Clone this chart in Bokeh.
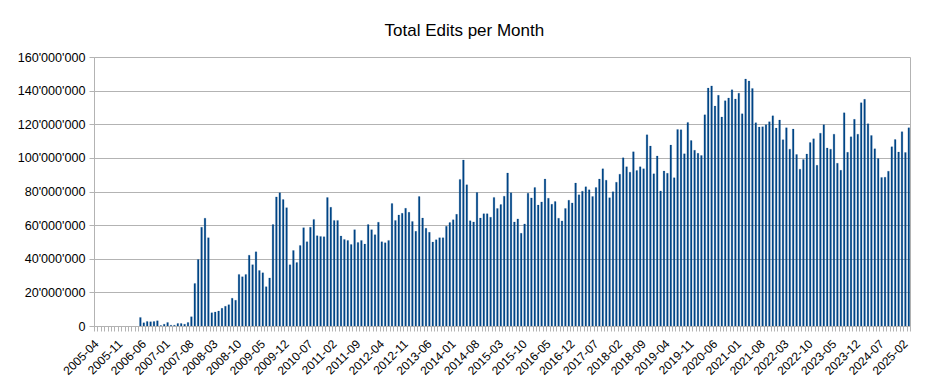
import math
import pandas as pd
from bokeh.plotting import figure
from bokeh.models import FixedTicker, Range1d, ColumnDataSource
from bokeh.embed import file_html
from bokeh.resources import INLINE

# ---- data (monthly total edits, in millions) ----
first_month = "2005-04"
last_month = "2025-03"

edits_2005_2009 = [  # 2005-04 .. 2009-12
    0, 0, 0, 0, 0, 0, 0, 0, 0,
    0, 0, 0, 0, 5.4, 2.2, 3.0, 2.8, 3.0, 3.4, 0.6, 1.4,
    2.4, 0.8, 0.8, 1.8, 1.8, 1.4, 2.4, 5.8, 25.6, 39.8, 59.0, 64.4,
    52.8, 8.2, 8.6, 9.2, 10.8, 12.0, 13.0, 16.8, 15.6, 31.0, 29.6, 31.0,
    42.4, 36.8, 44.4, 33.3, 31.9, 23.7, 28.9, 60.6, 77.1, 79.5, 75.5, 70.7,
]
edits_2010_2014 = [  # 2010-01 .. 2014-12
    36.7, 45.2, 38.0, 48.2, 58.8, 50.4, 59.0, 63.7, 54.0, 53.6, 53.4, 76.7,
    70.9, 63.1, 63.1, 53.8, 51.8, 51.2, 48.8, 57.6, 50.0, 51.2, 49.0, 60.6,
    57.6, 54.6, 62.0, 50.4, 49.8, 51.2, 73.1, 63.1, 66.3, 67.3, 70.3, 67.9,
    62.5, 56.6, 77.3, 64.5, 58.4, 56.0, 50.2, 51.6, 52.8, 52.8, 59.6, 61.8,
    63.5, 66.7, 87.5, 99.0, 84.3, 62.9, 62.2, 79.7, 64.5, 67.1, 67.1, 65.0,
]
edits_2015_2019 = [  # 2015-01 .. 2019-12
    76.8, 70.2, 72.5, 77.5, 91.3, 79.5, 62.2, 64.0, 55.4, 61.0, 79.3, 76.5,
    82.7, 72.2, 74.1, 87.7, 76.3, 72.7, 74.3, 64.4, 62.8, 70.2, 75.1, 73.5,
    85.3, 78.3, 80.5, 83.1, 81.3, 77.3, 82.7, 87.7, 93.8, 87.0, 76.6, 80.2,
    85.8, 90.6, 100.3, 95.0, 91.8, 103.9, 92.8, 95.0, 93.8, 114.0, 107.3, 90.8,
    101.4, 80.6, 92.5, 91.1, 107.9, 88.5, 117.2, 117.0, 102.7, 121.4, 110.6, 104.8,
]
edits_2020_2025 = [  # 2020-01 .. 2025-03
    103.0, 101.7, 125.9, 141.8, 143.1, 131.1, 137.5, 124.6, 134.3, 135.9, 140.8, 135.3,
    138.8, 126.5, 147.2, 146.0, 141.6, 121.2, 118.6, 118.8, 120.0, 121.8, 125.3, 118.0,
    122.8, 111.1, 118.2, 105.5, 117.4, 102.3, 93.6, 99.3, 102.6, 109.4, 111.6, 95.9,
    115.0, 120.0, 106.2, 105.5, 114.4, 97.1, 92.9, 127.1, 103.6, 112.8, 123.2, 114.4,
    133.1, 135.1, 120.6, 113.6, 105.7, 99.9, 88.6, 88.8, 92.4, 106.9, 111.2, 103.8,
    115.9, 103.5, 118.2,
]

y_tick_values = [0, 20000000, 40000000, 60000000, 80000000,
                 100000000, 120000000, 140000000, 160000000]
y_tick_labels = ["0", "20'000'000", "40'000'000", "60'000'000", "80'000'000",
                 "100'000'000", "120'000'000", "140'000'000", "160'000'000"]
x_label_every = 7
chart_title = "Total Edits per Month"

# ---- build ----
months = [per.strftime("%Y-%m") for per in pd.period_range(first_month, last_month, freq="M")]
edits_millions = edits_2005_2009 + edits_2010_2014 + edits_2015_2019 + edits_2020_2025
edits = [v * 1e6 for v in edits_millions]
idx = list(range(len(months)))

src = ColumnDataSource(data=dict(x=idx, month=months, edits=edits))

W, H = 921, 383
p = figure(width=W, height=H, output_backend="svg", toolbar_location=None,
           x_range=Range1d(-0.5, len(months) - 0.5),
           y_range=Range1d(y_tick_values[0], y_tick_values[-1]),
           min_border_left=94, min_border_right=11,
           min_border_top=57, min_border_bottom=57)

p.vbar(x="x", top="edits", width=0.5, source=src,
       fill_color="#004586", line_color="#004586", line_width=0.2)

GRAY = "#b3b3b3"
FONT = "Liberation Sans"

# y axis
p.yaxis.ticker = FixedTicker(ticks=y_tick_values)
p.yaxis.major_label_overrides = {v: l for v, l in zip(y_tick_values, y_tick_labels)}
p.yaxis.major_label_text_font = FONT
p.yaxis.major_label_text_font_size = "12.6px"
p.yaxis.major_label_text_color = "black"
p.yaxis.axis_line_color = GRAY
p.yaxis.major_tick_line_color = GRAY
p.yaxis.major_tick_out = 5
p.yaxis.major_tick_in = 0
p.yaxis.minor_tick_line_color = None
p.yaxis.major_label_standoff = 4

# x axis
label_idx = idx[::x_label_every]
p.xaxis.ticker = FixedTicker(ticks=label_idx, minor_ticks=[i - 0.5 for i in idx] + [len(idx) - 0.5])
p.xaxis.major_label_overrides = {i: months[i] for i in label_idx}
p.xaxis.major_label_orientation = math.pi / 4
p.xaxis.major_label_text_font = FONT
p.xaxis.major_label_text_font_size = "12px"
p.xaxis.major_label_text_color = "black"
p.xaxis.axis_line_color = GRAY
p.xaxis.major_tick_line_color = None
p.xaxis.major_tick_out = 5
p.xaxis.major_tick_in = 0
p.xaxis.minor_tick_line_color = GRAY
p.xaxis.minor_tick_out = 5
p.xaxis.minor_tick_in = 0
p.xaxis.major_label_standoff = 10

p.xgrid.grid_line_color = None
p.ygrid.grid_line_color = GRAY
p.outline_line_color = GRAY
p.background_fill_color = "white"
p.border_fill_color = "white"

p.title.text = chart_title
p.title.align = "left"
p.title.text_font = FONT
p.title.text_font_size = "17px"
p.title.text_font_style = "normal"
p.title.text_color = "black"
p.title.text_line_height = 1.0
p.title.offset = 290
p.title.standoff = 35

open("out.html", "w").write(file_html(p, INLINE))
